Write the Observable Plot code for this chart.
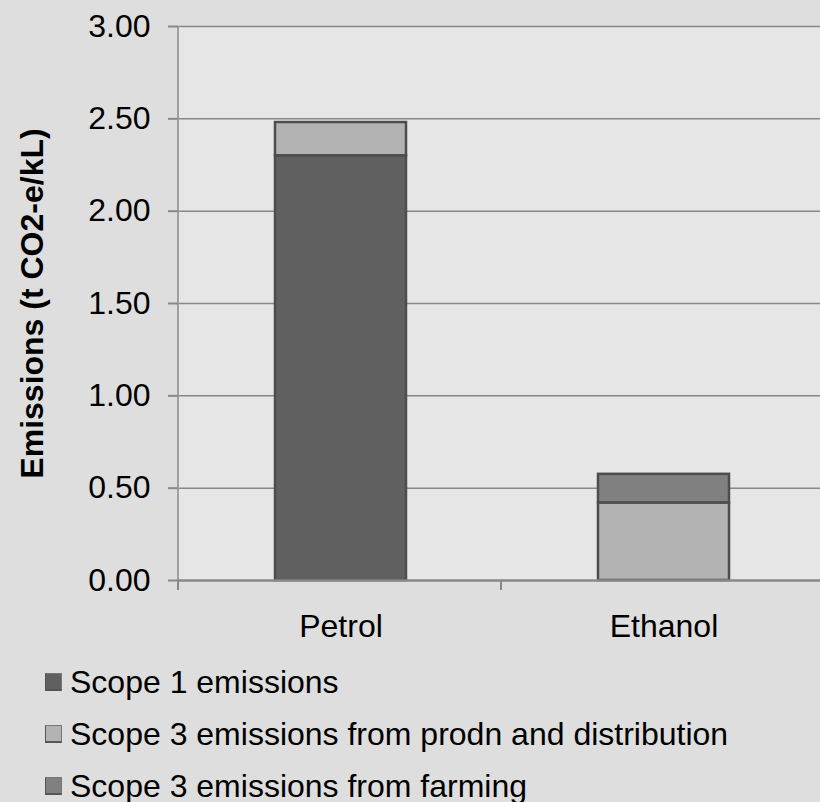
<!DOCTYPE html>
<html>
<head>
<meta charset="utf-8">
<script src="https://cdn.jsdelivr.net/npm/d3@7"></script>
<script src="https://cdn.jsdelivr.net/npm/@observablehq/plot@0.6"></script>
<style>
  html, body { margin: 0; padding: 0; background: #dedede; }
  body { width: 820px; height: 802px; overflow: hidden; font-family: "Liberation Sans", Arial, sans-serif; }
  #legend { padding-top: 6px; padding-left: 45px; }
  .item { display: flex; align-items: center; height: 52px; font-size: 32px; color: #000; white-space: nowrap; }
  .sw { width: 15px; height: 15px; margin-right: 8px; border-left: 1px solid #555; border-bottom: 2px solid #555; border-top: 1px solid #777; border-right: 1px solid #777; }
</style>
</head>
<body>
<div id="chart"></div>
<div id="legend"></div>
<script>
const fuels = ["Petrol", "Ethanol"];
const series = ["Scope 1 emissions", "Scope 3 emissions from prodn and distribution", "Scope 3 emissions from farming"];
const scope1 = [2.30, 0];
const scope3Prodn = [0.18, 0.42];
const scope3Farming = [0, 0.155];
const yTicks = [0, 0.5, 1, 1.5, 2, 2.5, 3];
const yTitle = "Emissions (t CO2-e/kL)";
const colors = ["#606060", "#b3b3b3", "#808080"];

const valuesBySeries = [scope1, scope3Prodn, scope3Farming];
const rows = [];
series.forEach((s, si) => fuels.forEach((f, fi) => {
  if (valuesBySeries[si][fi] > 0) rows.push({fuel: f, series: s, value: valuesBySeries[si][fi]});
}));

const halfStep = 163;
const chart = Plot.plot({
  width: 820,
  height: 650,
  marginTop: 26,
  marginBottom: 70,
  marginLeft: 178,
  marginRight: 0,
  style: {fontFamily: "Liberation Sans, Arial, sans-serif", fontSize: "32px", background: "transparent", color: "#000"},
  x: {domain: fuels, range: [178, 826], paddingInner: 0.595, paddingOuter: 0.30, axis: null},
  y: {domain: [0, 3], axis: null},
  color: {domain: series, range: colors},
  marks: [
    Plot.frame({fill: "#e6e6e6", stroke: null}),
    Plot.ruleY(yTicks.filter(d => d > 0), {stroke: "#888", strokeWidth: 1.5}),
    Plot.ruleX([fuels[0]], {dx: -halfStep, y1: 0, y2: 3, stroke: "#a0a0a0", strokeWidth: 2}),
    Plot.barY(rows, {x: "fuel", y: "value", fill: "series", stroke: "#4d4d4d", strokeWidth: 2.5}),
    Plot.ruleY([0], {stroke: "#888", strokeWidth: 2.5}),
    Plot.ruleX(fuels, {dx: -halfStep, y1: 0, y2: 0, insetBottom: -10, stroke: "#888", strokeWidth: 2}),
    Plot.axisY(yTicks, {tickFormat: d3.format(".2f"), tickSize: 10, tickPadding: 18, stroke: "#888", strokeWidth: 2, fill: "#000", fontSize: 32, label: null}),
    Plot.axisX({tickSize: 0, tickPadding: 34, fill: "#000", fontSize: 32, label: null}),
    Plot.text([yTitle], {frameAnchor: "left", textAnchor: "middle", lineAnchor: "middle", rotate: -90, dx: -146, fontWeight: "bold", fontSize: 32, fill: "#000"})
  ]
});
document.getElementById("chart").appendChild(chart);

const legend = document.getElementById("legend");
series.forEach((s, i) => {
  const item = document.createElement("div");
  item.className = "item";
  const sw = document.createElement("span");
  sw.className = "sw";
  sw.style.background = colors[i];
  item.appendChild(sw);
  item.appendChild(document.createTextNode(s));
  legend.appendChild(item);
});
</script>
</body>
</html>
